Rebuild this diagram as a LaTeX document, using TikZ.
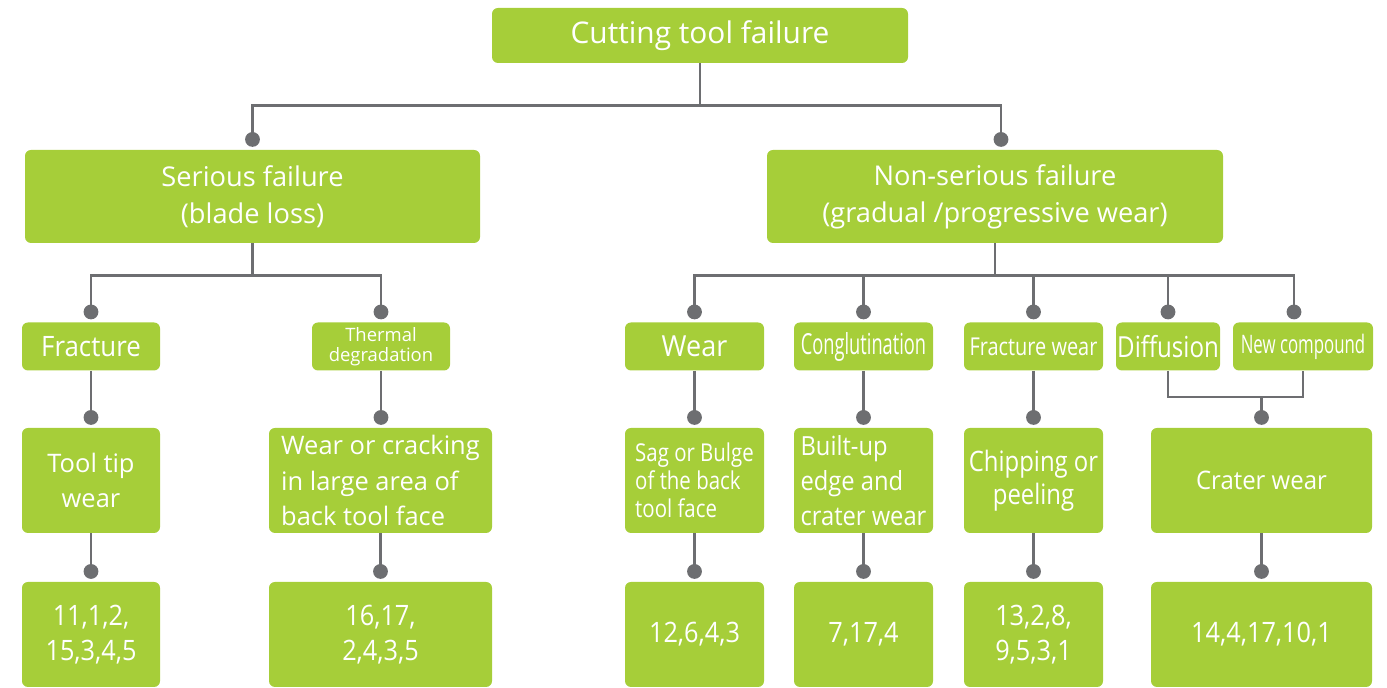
\documentclass[tikz,border=0pt]{standalone}
\usepackage{fontspec}
\setmainfont{Open Sans}
\usepackage{graphicx}
\usepackage{xcolor}
\usetikzlibrary{arrows.meta,calc}
\definecolor{leafgreen}{RGB}{166,206,57}
\definecolor{linkgray}{RGB}{109,110,113}
\newcommand{\fsz}[2]{\fontsize{#1}{#2}\selectfont}
\newcommand{\nar}[2][0.85]{\scalebox{#1}[1]{#2}}
\tikzset{
  box/.style={fill=leafgreen, text=white, rounded corners=3.4pt, inner sep=0pt, align=center},
  boxsize/.style 2 args={minimum width=#1*0.02cm, minimum height=#2*0.02cm},
  wire/.style={draw=linkgray, line width=1.6pt},
  link/.style={wire, -{Circle[length=8.4pt]}, shorten >=1.6pt},
}

\begin{document}
\begin{tikzpicture}[x=0.02cm, y=0.02cm]
    \useasboundingbox (0,0) rectangle (1387,688);

    % Top: the failure itself
    \node[box, boxsize={416}{55}, font=\fsz{17}{22}] (root) at (700,652.5) {Cutting tool failure};

    % Level 1: serious / non-serious
    \node[box, boxsize={455}{93}, font=\fsz{15.5}{21}] (serious) at (252.5,491.5) {Serious failure\\(blade loss)};
    \node[box, boxsize={456}{93}, font=\fsz{15.5}{21}] (nonser) at (995,491.5) {Non-serious failure\\(gradual /progressive wear)};

    % Level 2: causes
    \node[box, boxsize={138}{48}, font=\fsz{16}{20}] (fracture) at (91,341.5) {\nar[0.92]{Fracture}};
    \node[box, boxsize={138}{48}, font=\fsz{10.5}{11.5}] (thermal) at (381,341.5) {Thermal\\degradation};
    \node[box, boxsize={139}{48}, font=\fsz{16.5}{20}] (wear) at (694.5,341.5) {\nar[0.93]{Wear}};
    \node[box, boxsize={139}{48}, font=\fsz{16.5}{20}] (conglu) at (863.5,341.5) {\nar[0.63]{Conglutination}};
    \node[box, boxsize={139}{48}, font=\fsz{14}{18}] (fracwear) at (1033.5,341.5) {\nar[0.81]{Fracture wear}};
    \node[box, boxsize={104}{48}, font=\fsz{16.5}{20}] (diffusion) at (1168,341.5) {\nar[0.83]{Diffusion}};
    \node[box, boxsize={140}{48}, font=\fsz{14.5}{18}] (newcomp) at (1303,341.5) {\nar[0.66]{New compound}};

    % Level 3: wear forms
    \node[box, boxsize={138}{105}, font=\fsz{14.5}{20}] (tooltip) at (91,207.5) {Tool tip\\wear};
    \node[box, boxsize={223}{105}, font=\fsz{14.5}{20}, align=left] (wearcrack) at (380.5,207.5) {Wear or cracking\\in large area of\\back tool face};
    \node[box, boxsize={139}{105}, font=\fsz{14}{16}, align=left] (sag) at (694.5,207.5) {\nar[0.83]{Sag or Bulge}\\\nar[0.83]{of the back}\\\nar[0.83]{tool face}};
    \node[box, boxsize={139}{105}, font=\fsz{15}{20}, align=left] (builtup) at (863.5,207.5) {\nar[0.9]{Built-up}\\\nar[0.9]{edge and}\\\nar[0.9]{crater wear}};
    \node[box, boxsize={139}{105}, font=\fsz{16}{19}] (chipping) at (1033.5,207.5) {\nar{Chipping or}\\\nar{peeling}};
    \node[box, boxsize={221}{105}, font=\fsz{14.5}{20}] (crater) at (1261.5,207.5) {\nar[0.94]{Crater wear}};

    % Level 4: numbers
    \node[box, boxsize={138}{105}, font=\fsz{16}{20}] (n1) at (91,53.5) {\nar[0.9]{11,1,2,}\\\nar[0.9]{15,3,4,5}};
    \node[box, boxsize={223}{105}, font=\fsz{16}{20}] (n2) at (380.5,53.5) {\nar[0.9]{16,17,}\\\nar[0.9]{2,4,3,5}};
    \node[box, boxsize={139}{105}, font=\fsz{16}{20}] (n3) at (694.5,53.5) {\nar[0.9]{12,6,4,3}};
    \node[box, boxsize={139}{105}, font=\fsz{16}{20}] (n4) at (863.5,53.5) {\nar[0.9]{7,17,4}};
    \node[box, boxsize={139}{105}, font=\fsz{16}{20}] (n5) at (1033.5,53.5) {\nar[0.9]{13,2,8,}\\\nar[0.9]{9,5,3,1}};
    \node[box, boxsize={221}{105}, font=\fsz{16}{20}] (n6) at (1261.5,53.5) {\nar[0.9]{14,4,17,10,1}};

    % Connectors
    \draw[link] (root.south) -- ++(0,-42) -| (serious.north);
    \draw[link] (root.south) -- ++(0,-42) -| ($(nonser.north)+(6,0)$);

    \foreach \kid in {fracture,thermal}
        \draw[link] (serious.south) -- ++(0,-32) -| (\kid.north);
    \foreach \kid in {wear,conglu,fracwear,diffusion}
        \draw[link] (nonser.south) -- ++(0,-32) -| (\kid.north);
    \draw[link] (nonser.south) -- ++(0,-32) -| ($(newcomp.north)+(-9,0)$);

    \foreach \up/\down in {fracture/tooltip, thermal/wearcrack, wear/sag, conglu/builtup, fracwear/chipping}
        \draw[link] (\up.south) -- (\up.south |- \down.north);

    % Diffusion + new compound meet
    \coordinate (join) at (1261.5,291);
    \draw[wire] (diffusion.south) |- (join) -| (newcomp.south);
    \draw[link] (join) -- (crater.north);

    \foreach \up/\down in {tooltip/n1, wearcrack/n2, sag/n3, builtup/n4, chipping/n5, crater/n6}
        \draw[link] (\up.south) -- (\down.north);
\end{tikzpicture}
\end{document}
